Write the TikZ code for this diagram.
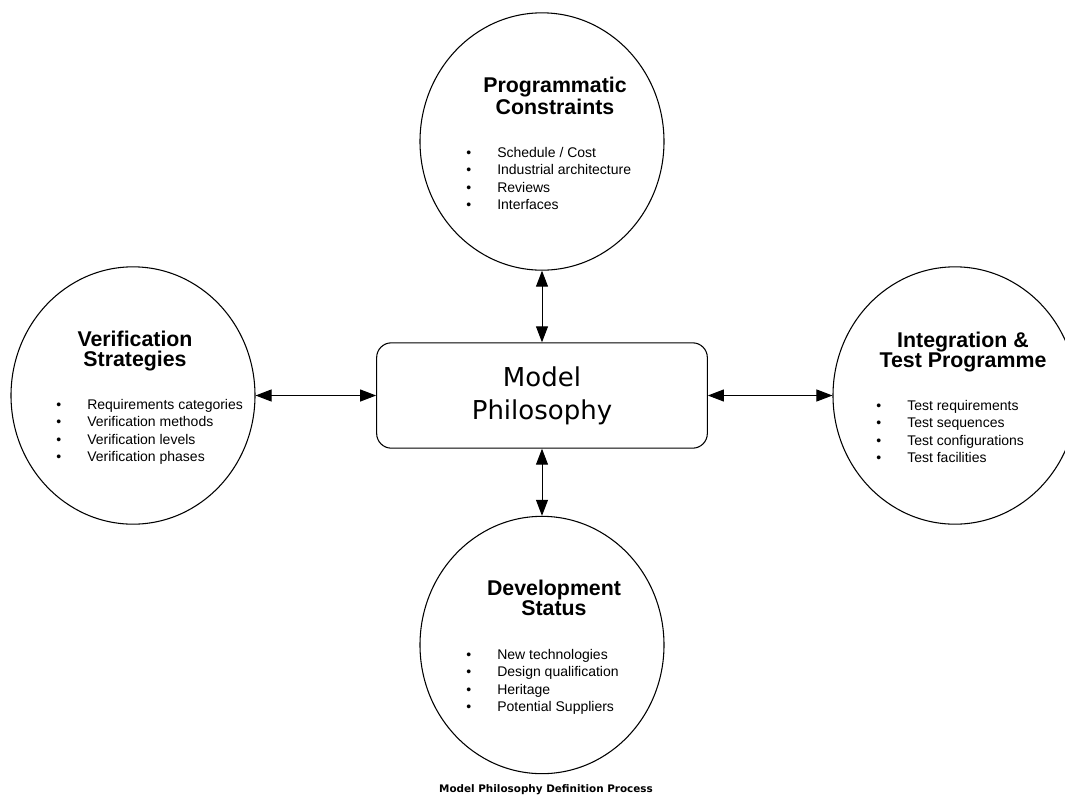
\documentclass[tikz,border=0pt]{standalone}
\usepackage{fontspec}
\setmainfont{Liberation Sans}
\newfontfamily\boxfont{DejaVu Sans}
\usetikzlibrary{shapes.geometric,arrows.meta}

\newcommand{\bitem}[1]{\makebox[23.25pt][l]{\textbullet}#1}

\begin{document}
\begin{tikzpicture}[x=0.75pt, y=-0.75pt, line join=round,
  topic/.style={ellipse, draw, line width=0.8pt, inner sep=0pt, minimum width=183pt, minimum height=193pt},
  ttl/.style={anchor=north, align=center, inner sep=0pt, font=\fontsize{16}{14.6}\selectfont\bfseries},
  lst/.style={anchor=north west, align=left, inner sep=0pt, font=\fontsize{10.5}{13.1}\selectfont},
  core/.style={draw, line width=0.8pt, rounded corners=11pt, minimum width=248pt, minimum height=79pt,
    align=center, font=\fontsize{19.5}{24.75}\boxfont},
  link/.style={line width=0.75pt, {Triangle[length=12pt,width=9pt]}-{Triangle[length=12pt,width=9pt]}}
]
  \useasboundingbox (0,0) rectangle (1065,800);

  \node[core] (mp) at (542,395.5) {Model\\Philosophy};

  \node[topic] (pc) at (542,141.5) {};
  \node[topic] (vs) at (133,395.5) {};
  \node[topic] (it) at (955,395.5) {};
  \node[topic] (ds) at (542,645) {};

  \node[ttl] (pct) at (555,77) {Programmatic\\Constraints};
  \node[lst] (pcl) at (466,147) {\bitem{Schedule / Cost}\\\bitem{Industrial architecture}\\\bitem{Reviews}\\\bitem{Interfaces}};

  \node[ttl] (vst) at (135,331) {Verification\\Strategies};
  \node[lst] (vsl) at (56,399) {\bitem{Requirements categories}\\\bitem{Verification methods}\\\bitem{Verification levels}\\\bitem{Verification phases}};

  \node[ttl] (itt) at (963,332) {Integration \&\\Test Programme};
  \node[lst] (itl) at (876,400) {\bitem{Test requirements}\\\bitem{Test sequences}\\\bitem{Test configurations}\\\bitem{Test facilities}};

  \node[ttl] (dst) at (554,580) {Development\\Status};
  \node[lst] (dsl) at (466,649) {\bitem{New technologies}\\\bitem{Design qualification}\\\bitem{Heritage}\\\bitem{Potential Suppliers}};

  \draw[link] (pc) -- (mp);
  \draw[link] (ds) -- (mp);
  \draw[link] (vs) -- (mp);
  \draw[link] (it) -- (mp);

  \node (cap) at (546,790) {\fontsize{7.8}{9}\boxfont\bfseries Model Philosophy Definition Process};
\end{tikzpicture}
\end{document}
